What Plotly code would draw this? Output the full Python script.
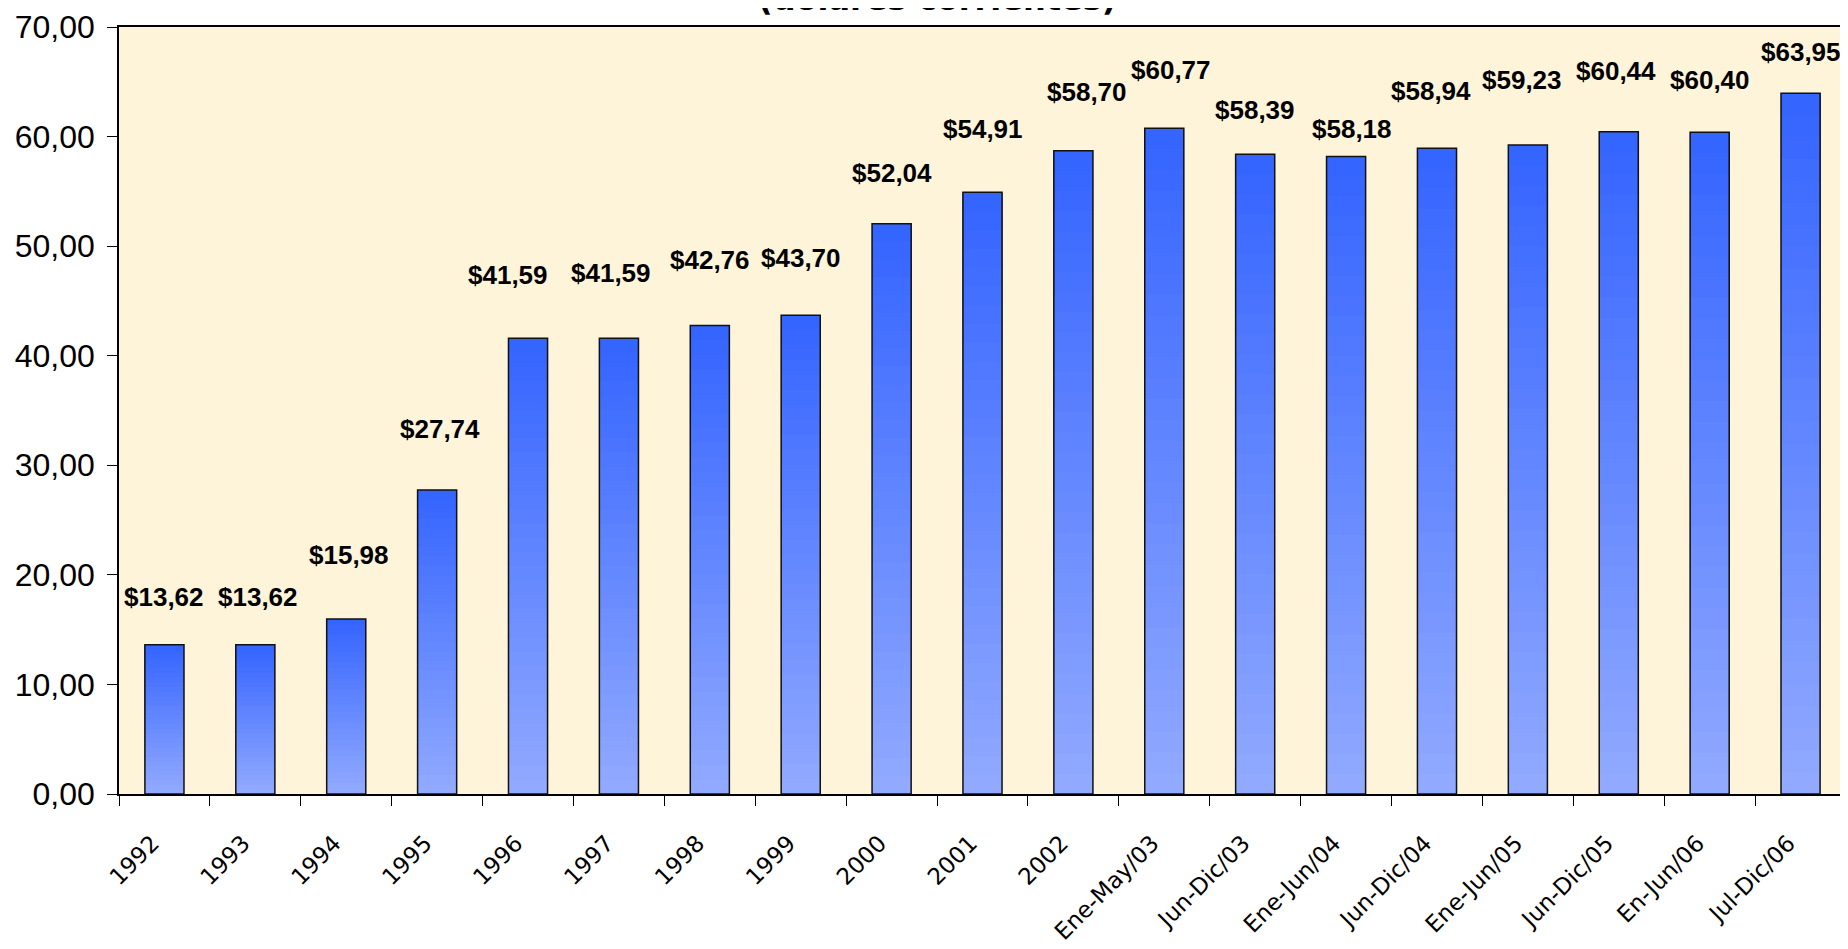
import plotly.graph_objects as go

categories = ["1992", "1993", "1994", "1995", "1996", "1997", "1998", "1999", "2000",
              "2001", "2002", "Ene-May/03", "Jun-Dic/03", "Ene-Jun/04", "Jun-Dic/04",
              "Ene-Jun/05", "Jun-Dic/05", "En-Jun/06", "Jul-Dic/06"]
values = [13.62, 13.62, 15.98, 27.74, 41.59, 41.59, 42.76, 43.70, 52.04,
          54.91, 58.70, 60.77, 58.39, 58.18, 58.94, 59.23, 60.44, 60.40, 63.95]
value_labels = ["$13,62", "$13,62", "$15,98", "$27,74", "$41,59", "$41,59", "$42,76",
                "$43,70", "$52,04", "$54,91", "$58,70", "$60,77", "$58,39", "$58,18",
                "$58,94", "$59,23", "$60,44", "$60,40", "$63,95"]
y_ticks = [0, 10, 20, 30, 40, 50, 60, 70]

# hand-placed label nudges (pixels) as in the original chart
label_gap_px = [48, 48, 64, 61, 63, 65, 65, 57, 51, 63, 59, 58, 44, 28, 57, 65, 61, 52, 41]
label_dx_px = [0, 3, 3, 3, -20, -8, 0, 0, 0, 0, 14, 7, 0, 6, -6, -6, -3, 0, 0]

SANS = "Liberation Sans, Arial, sans-serif"
BAR_W = 0.43
TOP_RGB = (52, 100, 255)
BOTTOM_RGB = (146, 170, 255)
N_SHADES = 32

fig = go.Figure()

# vertical gradient fill for each bar (each layer runs from a fraction of the bar up to its top)
for k in range(N_SHADES):
    f = k / N_SHADES
    t = (k + 0.5) / N_SHADES
    rgb = tuple(round(BOTTOM_RGB[c] + (TOP_RGB[c] - BOTTOM_RGB[c]) * t) for c in range(3))
    fig.add_trace(go.Bar(
        x=categories, y=[v * (1 - f) for v in values], base=[v * f for v in values],
        width=BAR_W, marker=dict(color="rgb(%d,%d,%d)" % rgb, line=dict(width=0)),
        hoverinfo="skip", showlegend=False,
    ))

# data bars: outline
fig.add_trace(go.Bar(
    x=categories, y=values, width=BAR_W,
    marker=dict(color="rgba(0,0,0,0)", line=dict(color="#111111", width=1.5)),
    hoverinfo="x+y", showlegend=False,
))

for i, (v, t) in enumerate(zip(values, value_labels)):
    fig.add_annotation(x=i, y=v, text=t, showarrow=False, yanchor="middle",
                       xanchor="center", yshift=label_gap_px[i], xshift=label_dx_px[i],
                       font=dict(family=SANS, size=26, color="#000000", weight="bold"))

fig.add_annotation(xref="paper", yref="paper", x=0.4737, y=1.009, xanchor="center",
                   yanchor="bottom", showarrow=False, text="(dólares corrientes)",
                   font=dict(family="DejaVu Sans", size=32, color="#000000", weight="bold"))

fig.update_layout(
    width=1848, height=949,
    margin=dict(l=111, r=10, t=19, b=163, autoexpand=False),
    paper_bgcolor="#FFFFFF", plot_bgcolor="#FEF4DA",
    separators=",.", barmode="overlay",
)
fig.update_xaxes(
    type="category", range=[-0.5, len(categories) - 0.5],
    showline=True, linecolor="#000000", linewidth=1.5,
    mirror=True, ticks="outside", ticklen=10, tickwidth=1.2, tickcolor="#000000",
    tickson="boundaries", tickangle=-45, ticklabelstandoff=25, ticklabelshift=-12,
    tickfont=dict(family="DejaVu Sans", size=23, color="#000000"),
    showgrid=False, zeroline=False,
)
fig.update_yaxes(
    range=[0, 70], tickvals=y_ticks, tickformat=".2f",
    showline=True, linecolor="#000000", linewidth=1.5,
    ticks="outside", ticklen=10, tickwidth=1.2, tickcolor="#000000",
    ticklabelstandoff=6,
    tickfont=dict(family=SANS, size=32, color="#000000"),
    showgrid=False, zeroline=False,
)

fig.write_html("out.html")
